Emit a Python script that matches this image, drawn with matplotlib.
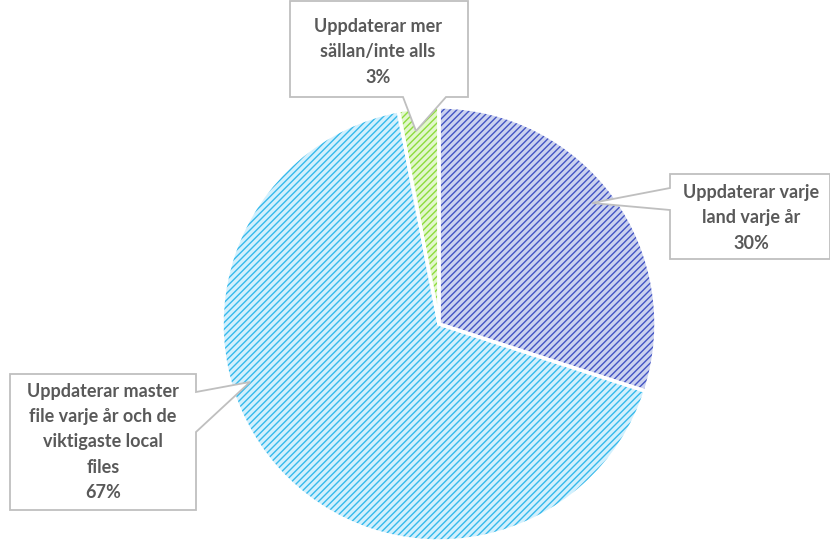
import matplotlib.pyplot as plt
from matplotlib.patches import Polygon

labels = ["Uppdaterar varje\nland varje år", "Uppdaterar master\nfile varje år och de\nviktigaste local\nfiles", "Uppdaterar mer\nsällan/inte alls"]
values = [30, 67, 3]
face_colors = ["#cbd2ef", "#d2f0fd", "#e2f7cc"]
hatch_colors = ["#4354c4", "#35b9ec", "#8cdc3c"]

plt.rcParams["hatch.linewidth"] = 1.0

W, H = 830, 542
fig = plt.figure(figsize=(W / 100, H / 100), dpi=100)
ax = fig.add_axes([0, 0, 1, 1])

center = (439, H - 324)
radius = 217
kw = dict(startangle=90, counterclock=False, center=center, radius=radius, frame=True)

ax.pie(values, colors=face_colors, wedgeprops=dict(linewidth=0), **kw)
wedges, _ = ax.pie(values, colors=["none"] * 3, wedgeprops=dict(linewidth=0), **kw)
for w, hc in zip(wedges, hatch_colors):
    w.set_facecolor("none")
    w.set_edgecolor(hc)
    w.set_hatch("/////")
    w.set_linewidth(0)
ax.pie(values, colors=["none"] * 3, wedgeprops=dict(linewidth=2.5, edgecolor="white"), **kw)
ax.set_xlim(0, W)
ax.set_ylim(0, H)
ax.set_aspect("equal")
ax.axis("off")

def Y(y):
    return H - y

# callout boxes in pixel coords (top-left origin)
boxes = [
    # right box: pointer on left edge
    [(670, 174), (830, 174), (830, 259), (670, 259), (670, 210), (592, 203), (670, 188)],
    # left box: pointer on right edge
    [(10, 374), (196, 374), (196, 392), (250, 382), (196, 432), (196, 510), (10, 510)],
    # top box: pointer on bottom edge
    [(290, 1), (468, 1), (468, 97), (446, 97), (416, 131), (403, 97), (290, 97)],
]
for pts in boxes:
    ax.add_patch(Polygon([(x, Y(y)) for x, y in pts], closed=True, facecolor="white",
                         edgecolor="#bfbfbf", linewidth=1.3, zorder=5))

text_pos = [(751, 218), (103, 442), (378, 52)]
for lab, v, (x, y) in zip(labels, values, text_pos):
    ax.text(x, Y(y), f"{lab}\n{v}%", ha="center", va="center", fontsize=13,
            fontweight="bold", family="Lato", color="#595959", linespacing=1.58, zorder=6)

fig.savefig("out.png", dpi=100)
